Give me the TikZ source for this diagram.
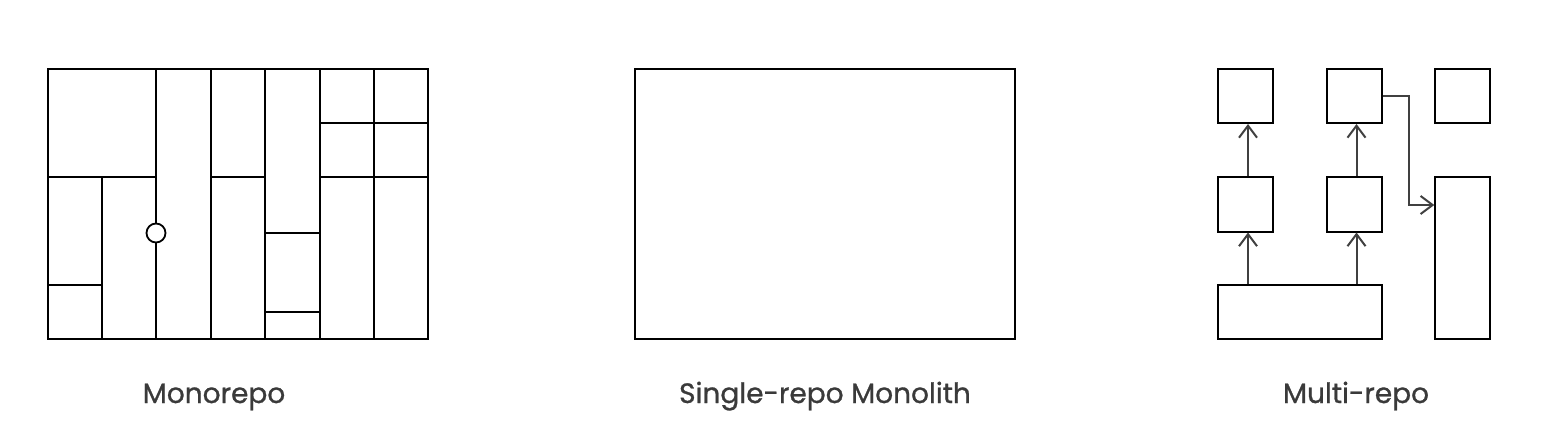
\documentclass[tikz,border=0pt]{standalone}
\usepackage{fontspec}
\setmainfont{Poppins}
\newfontfamily\lblfont{Poppins}[FakeBold=0.9]
\usetikzlibrary{arrows.meta,calc}
\definecolor{txt}{HTML}{3A3A3A}
\definecolor{arrc}{HTML}{404040}
\begin{document}
\begin{tikzpicture}[x=1pt,y=-1pt,
  grid/.style={line width=2pt,black},
  box/.style={draw=black,line width=2pt,inner sep=0pt,rectangle},
  arr/.style={draw=arrc,line width=2pt,-{Straight Barb[length=12pt,width=18pt,line width=2pt]}},
  lbl/.style={anchor=base,text=txt,font=\lblfont\fontsize{28}{32}\selectfont,inner sep=0pt}]
\useasboundingbox (0,0) rectangle (1564,433);
% ---------------- Monorepo ----------------
\coordinate (m0) at (48,69);
\coordinate (m1) at (428,339);
\draw[grid] (m0) rectangle (m1);
\draw[grid] (48,177) -- (156,177);
\draw[grid] (102,177) -- (102,339);
\draw[grid] (48,285) -- (102,285);
\draw[grid] (156,69) -- (156,339);
\draw[grid] (210.5,69) -- (210.5,339);
\draw[grid] (210.5,177) -- (265,177);
\draw[grid] (265,69) -- (265,339);
\draw[grid] (265,233) -- (319.5,233);
\draw[grid] (265,312) -- (319.5,312);
\draw[grid] (319.5,69) -- (319.5,339);
\draw[grid] (319.5,123) -- (428,123);
\draw[grid] (319.5,177) -- (428,177);
\draw[grid] (374,69) -- (374,339);
\node[circle,draw=black,fill=white,line width=1.8pt,minimum size=19pt,inner sep=0pt] (hole) at (156,233) {};
\node[lbl] (lmono) at (214,403) {Monorepo};
% ---------------- Single-repo Monolith ----------------
\node[box,minimum width=380pt,minimum height=270pt] (mono) at (825,204) {};
\node[lbl] (lsingle) at (825,403) {Single-repo Monolith};
% ---------------- Multi-repo ----------------
\node[box,minimum width=54.5pt,minimum height=54pt] (A) at (1245.5,96) {};
\node[box,minimum width=54.5pt,minimum height=54pt] (B) at (1354.5,96) {};
\node[box,minimum width=54.5pt,minimum height=54pt] (C) at (1462.5,96) {};
\node[box,minimum width=54.5pt,minimum height=54pt] (D) at (1245.5,204.5) {};
\node[box,minimum width=54.5pt,minimum height=54pt] (E) at (1354.5,204.5) {};
\node[box,minimum width=54.5pt,minimum height=162pt] (F) at (1462.5,258) {};
\node[box,minimum width=163.5pt,minimum height=54pt] (G) at (1300,312) {};
\coordinate (xa) at (1248,0);
\coordinate (xb) at (1356.5,0);
\coordinate (bend) at (1409,205);
\draw[arr] (G.north -| xa) -- (D.south -| xa);
\draw[arr] (D.north -| xa) -- (A.south -| xa);
\draw[arr] (G.north -| xb) -- (E.south -| xb);
\draw[arr] (E.north -| xb) -- (B.south -| xb);
\draw[arr] (B.east) -| (bend) -- (bend -| F.west);
\node[lbl] (lmulti) at (1356,403) {Multi-repo};
\end{tikzpicture}
\end{document}
